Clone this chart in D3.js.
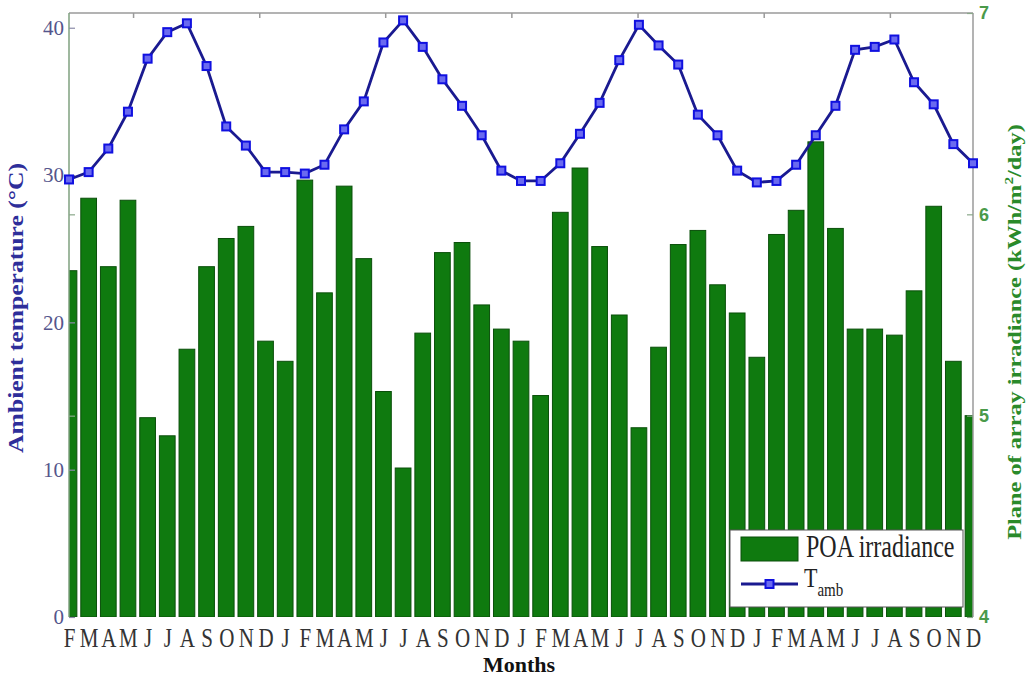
<!DOCTYPE html>
<html>
<head>
<meta charset="utf-8">
<script src="https://cdn.jsdelivr.net/npm/d3@7"></script>
<style>
  html, body { margin: 0; background: #fff; overflow: hidden; }
  svg { display: block; }
</style>
</head>
<body>
<div id="chart"></div>
<script>
// month letters under each bar (Feb of year 1 .. Dec of year 4)
const months = ["F","M","A","M","J","J","A","S","O","N","D",
  "J","F","M","A","M","J","J","A","S","O","N","D",
  "J","F","M","A","M","J","J","A","S","O","N","D",
  "J","F","M","A","M","J","J","A","S","O","N","D"]

// plane of array irradiance, kWh/m2/day (right axis)
const poa = [5.72, 6.08, 5.74, 6.07, 4.99, 4.90, 5.33, 5.74, 5.88, 5.94, 5.37,
  5.27, 6.17, 5.61, 6.14, 5.78, 5.12, 4.74, 5.41, 5.81, 5.86, 5.55, 5.43,
  5.37, 5.10, 6.01, 6.23, 5.84, 5.50, 4.94, 5.34, 5.85, 5.92, 5.65, 5.51,
  5.29, 5.90, 6.02, 6.36, 5.93, 5.43, 5.43, 5.40, 5.62, 6.04, 5.27, 5.00]

// ambient temperature, degC (left axis)
const tamb = [29.7, 30.2, 31.8, 34.3, 37.9, 39.7, 40.3, 37.4, 33.3, 32.0, 30.2,
  30.2, 30.1, 30.7, 33.1, 35.0, 39.0, 40.5, 38.7, 36.5, 34.7, 32.7, 30.3,
  29.6, 29.6, 30.8, 32.8, 34.9, 37.8, 40.2, 38.8, 37.5, 34.1, 32.7, 30.3,
  29.5, 29.6, 30.7, 32.7, 34.7, 38.5, 38.7, 39.2, 36.3, 34.8, 32.1, 30.8]

const tempTicks = [0, 10, 20, 30, 40]
const poaTicks = [4, 5, 6, 7]
// tick marks on the top edge, in bar-index units
const topTicks = [3.26, 9.68, 16.09, 22.51, 28.93, 35.35, 41.77]

var width = 1033
var height = 679
var margin = { left: 69, right: 60, top: 13, bottom: 62 }
var innerWidth = width - margin.left - margin.right
var innerHeight = height - margin.top - margin.bottom

var serif = "'Liberation Serif', 'Times New Roman', serif"
var barGreen = "#0f7a0f"
var lineBlue = "#1a1a90"
// the original figure is stretched vertically, texts follow it
var stretch = 1.28

var svg = d3.select("#chart").append("svg")
  .attr("width", width)
  .attr("height", height)

svg.append("defs").append("clipPath")
  .attr("id", "plot-clip")
  .append("rect")
  .attr("width", innerWidth)
  .attr("height", innerHeight)

var g = svg.append("g")
  .attr("transform", "translate(" + margin.left + "," + margin.top + ")")

var xScale = d3.scaleLinear()
  .domain([0, months.length - 1])
  .range([0, innerWidth])

var yTemp = d3.scaleLinear()
  .domain([0, 41])
  .range([innerHeight, 0])

var yPoa = d3.scaleLinear()
  .domain([4, 7])
  .range([innerHeight, 0])

var step = xScale(1) - xScale(0)
var barWidth = step * 0.8

// bars
g.append("g")
  .attr("clip-path", "url(#plot-clip)")
  .selectAll("rect")
  .data(poa)
  .enter().append("rect")
  .attr("x", (d, i) => xScale(i) - barWidth / 2)
  .attr("y", d => yPoa(d))
  .attr("width", barWidth)
  .attr("height", d => innerHeight - yPoa(d))
  .attr("fill", barGreen)
  .attr("stroke", "#0a4f0a")
  .attr("stroke-width", 1)

// frame
g.append("line")
  .attr("x1", 0).attr("x2", innerWidth)
  .attr("y1", 0).attr("y2", 0)
  .attr("stroke", "#9a9a9a").attr("stroke-width", 1.5)
g.append("line")
  .attr("x1", 0).attr("x2", 0)
  .attr("y1", 0).attr("y2", innerHeight)
  .attr("stroke", "#7fa07f").attr("stroke-width", 1.5)
g.append("line")
  .attr("x1", innerWidth).attr("x2", innerWidth)
  .attr("y1", 0).attr("y2", innerHeight)
  .attr("stroke", "#9a9a9a").attr("stroke-width", 1.5)

// top ticks
var topAxis = g.append("g")
  .call(d3.axisTop(xScale).tickValues(topTicks).tickSize(-5).tickFormat(""))
topAxis.select(".domain").remove()
topAxis.selectAll("line").attr("stroke", "#9a9a9a").attr("stroke-width", 1.5)

// left axis (temperature)
var leftAxis = g.append("g")
  .call(d3.axisLeft(yTemp).tickValues(tempTicks).tickSizeInner(-6).tickSizeOuter(0).tickPadding(5))
leftAxis.select(".domain").remove()
leftAxis.selectAll("line").attr("stroke", "#8a8aa8").attr("stroke-width", 1.2)
leftAxis.selectAll("text")
  .style("font-family", serif)
  .style("font-size", "21px")
  .attr("fill", "#55558c")

// right-axis ticks mirrored on the left edge
var leftMirror = g.append("g")
  .call(d3.axisLeft(yPoa).tickValues([5, 6]).tickSize(-6).tickFormat(""))
leftMirror.select(".domain").remove()
leftMirror.selectAll("line").attr("stroke", "#8aa88a").attr("stroke-width", 1.2)

// right axis (irradiance)
var rightAxis = g.append("g")
  .attr("transform", "translate(" + innerWidth + ",0)")
  .call(d3.axisRight(yPoa).tickValues(poaTicks).tickFormat(d3.format("d"))
    .tickSizeInner(-6).tickSizeOuter(0).tickPadding(6))
rightAxis.select(".domain").remove()
rightAxis.selectAll("line").attr("stroke", "#8aa88a").attr("stroke-width", 1.2)
rightAxis.selectAll("text")
  .style("font-family", "'Liberation Sans', Arial, sans-serif")
  .style("font-size", "18px")
  .style("font-weight", "bold")
  .attr("fill", "#4a9a4a")

// month letters
var xAxis = g.append("g")
  .attr("transform", "translate(0," + innerHeight + ")")
  .call(d3.axisBottom(xScale).tickValues(d3.range(months.length))
    .tickFormat(i => months[i]).tickSize(0))
xAxis.select(".domain").remove()
xAxis.selectAll("text")
  .attr("y", 0)
  .attr("dy", 0)
  .attr("transform", "translate(0,30) scale(1," + stretch + ")")
  .style("font-family", serif)
  .style("font-size", "21px")
  .attr("fill", "#333")

// temperature line
var line = d3.line()
  .x((d, i) => xScale(i))
  .y(d => yTemp(d))

g.append("path")
  .datum(tamb)
  .attr("d", line)
  .attr("fill", "none")
  .attr("stroke", lineBlue)
  .attr("stroke-width", 2.8)

g.selectAll(".marker")
  .data(tamb)
  .enter().append("rect")
  .attr("class", "marker")
  .attr("x", (d, i) => xScale(i) - 4)
  .attr("y", d => yTemp(d) - 4)
  .attr("width", 8)
  .attr("height", 8)
  .attr("fill", "#6a6af0")
  .attr("stroke", "#1010e0")
  .attr("stroke-width", 2)

// axis titles
svg.append("text")
  .attr("transform", "translate(23,308) rotate(-90) scale(" + stretch + ",1)")
  .attr("text-anchor", "middle")
  .style("font-family", serif)
  .style("font-size", "20px")
  .style("font-weight", "bold")
  .attr("fill", "#2e2e9a")
  .text("Ambient temperature (°C)")

var rightTitle = svg.append("text")
  .attr("transform", "translate(1021,332) rotate(-90) scale(" + stretch + ",1)")
  .attr("text-anchor", "middle")
  .style("font-family", serif)
  .style("font-size", "19px")
  .style("font-weight", "bold")
  .attr("fill", "#2a8a2a")
rightTitle.append("tspan").text("Plane of array irradiance (kWh/m")
rightTitle.append("tspan").attr("dy", -8).style("font-size", "12px").text("2")
rightTitle.append("tspan").attr("dy", 8).text("/day)")

svg.append("text")
  .attr("x", 519)
  .attr("y", 672)
  .attr("text-anchor", "middle")
  .style("font-family", serif)
  .style("font-size", "22px")
  .style("font-weight", "bold")
  .attr("fill", "#111")
  .text("Months")

// legend
var legend = svg.append("g")
  .attr("transform", "translate(730,530)")

legend.append("rect")
  .attr("width", 233)
  .attr("height", 77)
  .attr("fill", "#fff")
  .attr("stroke", "#555")
  .attr("stroke-width", 1)

legend.append("rect")
  .attr("x", 11).attr("y", 7)
  .attr("width", 57).attr("height", 24)
  .attr("fill", barGreen)
  .attr("stroke", "#0a4f0a")

legend.append("text")
  .attr("transform", "translate(76,27) scale(1," + stretch + ")")
  .style("font-family", serif)
  .style("font-size", "24px")
  .attr("fill", "#222")
  .text("POA irradiance")

legend.append("line")
  .attr("x1", 11).attr("x2", 68)
  .attr("y1", 54).attr("y2", 54)
  .attr("stroke", lineBlue)
  .attr("stroke-width", 2.8)

legend.append("rect")
  .attr("x", 35.5).attr("y", 50)
  .attr("width", 8).attr("height", 8)
  .attr("fill", "#6a6af0")
  .attr("stroke", "#1010e0")
  .attr("stroke-width", 2)

var tLabel = legend.append("text")
  .attr("transform", "translate(74,57) scale(1," + stretch + ")")
  .style("font-family", serif)
  .style("font-size", "22px")
  .attr("fill", "#222")
tLabel.append("tspan").text("T")
tLabel.append("tspan").attr("dy", 7).style("font-size", "15px").text("amb")
</script>
</body>
</html>
